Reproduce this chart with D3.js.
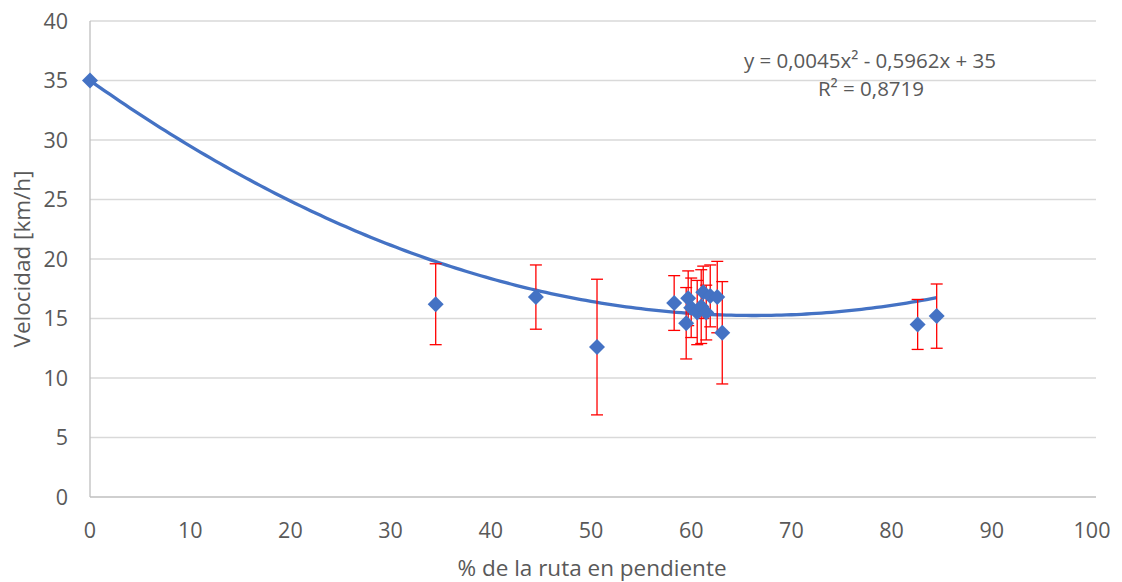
<!DOCTYPE html>
<html><head><meta charset="utf-8">
<script src="https://cdn.jsdelivr.net/npm/d3@7"></script>
<style>body{margin:0;background:#fff;}svg{display:block;}text{font-family:"Open Sans",sans-serif;fill:#595959;}</style>
</head><body>
<svg id="c" width="1122" height="582"></svg>
<script>
// Data
const pctPendiente = [0, 34.5, 44.5, 50.6, 58.3, 59.5, 59.7, 60.0, 60.6, 61.0, 61.2, 61.5, 61.9, 62.6, 63.1, 82.6, 84.5];
const velocidad   = [35, 16.2, 16.8, 12.6, 16.3, 14.6, 16.7, 15.9, 15.5, 16.0, 17.2, 15.5, 16.9, 16.8, 13.8, 14.5, 15.2];
const errorVel    = [0, 3.4, 2.7, 5.7, 2.3, 3.0, 2.3, 2.5, 2.7, 3.1, 2.2, 2.3, 2.6, 3.0, 4.3, 2.1, 2.7];
const trendCoef   = [0.0045, -0.5962, 35];
const xTicks = [0,10,20,30,40,50,60,70,80,90,100];
const yTicks = [0,5,10,15,20,25,30,35,40];
const eqLabel = "y = 0,0045x² - 0,5962x + 35";
const r2Label = "R² = 0,8719";
const xTitle = "% de la ruta en pendiente";
const yTitle = "Velocidad [km/h]";

const svg = d3.select("#c");
const L=90, R=1092, T=21, B=497;
const x = d3.scaleLinear().domain([0,100]).range([L,R]);
const y = d3.scaleLinear().domain([0,40]).range([B,T]);

// gridlines
svg.append("g").selectAll("line").data(yTicks).join("line")
  .attr("x1",L).attr("x2",R+4).attr("y1",d=>y(d)).attr("y2",d=>y(d))
  .attr("stroke",d=>d===0?"#bfbfbf":"#d9d9d9").attr("stroke-width",1.3);
svg.append("line").attr("x1",L).attr("x2",L).attr("y1",T).attr("y2",B)
  .attr("stroke","#bfbfbf").attr("stroke-width",1.3);

// tick labels
svg.append("g").selectAll("text").data(yTicks).join("text")
  .attr("x",L-22).attr("y",d=>y(d)).attr("dy","0.35em").attr("text-anchor","end")
  .attr("font-size",21.5).text(d=>d);
svg.append("g").selectAll("text").data(xTicks).join("text")
  .attr("x",d=>x(d)).attr("y",B+33).attr("dy","0.35em").attr("text-anchor","middle")
  .attr("font-size",21.5).text(d=>d);

// titles
svg.append("text").attr("x",592).attr("y",568).attr("dy","0.35em").attr("text-anchor","middle")
  .attr("font-size",22.5).text(xTitle);
svg.append("text").attr("transform",`translate(22,${(T+B)/2}) rotate(-90)`).attr("dy","0.35em")
  .attr("text-anchor","middle").attr("font-size",22.5).text(yTitle);

// trendline
const xMax = d3.max(pctPendiente);
const xs = d3.range(0, xMax, 0.5).concat([xMax]);
const f = v => trendCoef[0]*v*v + trendCoef[1]*v + trendCoef[2];
svg.append("path").datum(xs)
  .attr("d", d3.line().x(d=>x(d)).y(d=>y(f(d))))
  .attr("fill","none").attr("stroke","#4472C4").attr("stroke-width",3.3);

// error bars
const data = pctPendiente.map((p,i)=>({p, v:velocidad[i], e:errorVel[i]}));
const eb = svg.append("g").attr("stroke","#FF0000").attr("stroke-width",1.3);
data.filter(d=>d.e>0).forEach(d=>{
  eb.append("line").attr("x1",x(d.p)).attr("x2",x(d.p)).attr("y1",y(d.v-d.e)).attr("y2",y(d.v+d.e));
  eb.append("line").attr("x1",x(d.p)-6).attr("x2",x(d.p)+6).attr("y1",y(d.v+d.e)).attr("y2",y(d.v+d.e));
  eb.append("line").attr("x1",x(d.p)-6).attr("x2",x(d.p)+6).attr("y1",y(d.v-d.e)).attr("y2",y(d.v-d.e));
});

// markers
svg.append("g").selectAll("path").data(data).join("path")
  .attr("transform",d=>`translate(${x(d.p)},${y(d.v)})`)
  .attr("d","M0,-8L8,0L0,8L-8,0Z").attr("fill","#4472C4");

// equation
svg.append("text").attr("x",870).attr("y",61).attr("dy","0.35em").attr("text-anchor","middle")
  .attr("font-size",20.5).text(eqLabel);
svg.append("text").attr("x",871).attr("y",89).attr("dy","0.35em").attr("text-anchor","middle")
  .attr("font-size",20.5).text(r2Label);
</script>
</body></html>
